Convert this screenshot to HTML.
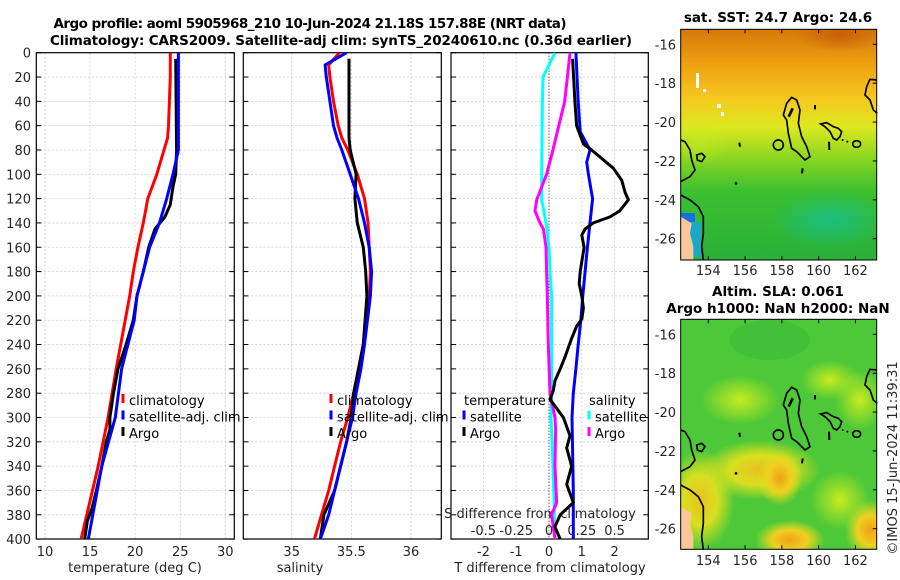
<!DOCTYPE html>
<html><head><meta charset="utf-8">
<style>
html,body{margin:0;padding:0;background:#fff;}
svg{display:block;font-family:"DejaVu Sans","Liberation Sans",sans-serif;}
.tk{font-size:13px;fill:#262626;}
.tt{font-size:13.5px;font-weight:bold;fill:#000;}
.lg{font-size:13px;fill:#000;}
</style></head><body>
<svg id="chart" width="900" height="580" viewBox="0 0 900 580" xmlns="http://www.w3.org/2000/svg">
<defs>
<clipPath id="c1"><rect x="36.3" y="52.7" width="198" height="486.3"/></clipPath>
<clipPath id="c2"><rect x="243.3" y="52.7" width="198" height="486.3"/></clipPath>
<clipPath id="c3"><rect x="451" y="52.7" width="197.3" height="486.3"/></clipPath>
<clipPath id="m1c"><rect x="680.7" y="29.3" width="196" height="230.7"/></clipPath>
<clipPath id="m2c"><rect x="680.7" y="319.3" width="196" height="230"/></clipPath>
<linearGradient id="sstg" x1="0" y1="0" x2="0" y2="1">
<stop offset="0" stop-color="#d4780a"/><stop offset="0.15" stop-color="#f0a010"/><stop offset="0.3" stop-color="#f5c820"/>
<stop offset="0.42" stop-color="#dfe820"/><stop offset="0.55" stop-color="#8ed820"/><stop offset="0.7" stop-color="#3cc030"/><stop offset="1" stop-color="#28b038"/>
</linearGradient>
<radialGradient id="teal" cx="0.5" cy="0.5" r="0.5"><stop offset="0" stop-color="#10c0a0"/><stop offset="1" stop-color="#10c0a0" stop-opacity="0"/></radialGradient>
<radialGradient id="brn" cx="0.5" cy="0.5" r="0.5"><stop offset="0" stop-color="#c86008"/><stop offset="1" stop-color="#c86008" stop-opacity="0"/></radialGradient>
<radialGradient id="yel" cx="0.5" cy="0.5" r="0.5"><stop offset="0" stop-color="#e8c020"/><stop offset="0.5" stop-color="#d8e020"/><stop offset="1" stop-color="#d8e020" stop-opacity="0"/></radialGradient>
<radialGradient id="org" cx="0.5" cy="0.5" r="0.5"><stop offset="0" stop-color="#f0a018"/><stop offset="0.5" stop-color="#f0d020"/><stop offset="1" stop-color="#e0e020" stop-opacity="0"/></radialGradient>
<radialGradient id="lyel" cx="0.5" cy="0.5" r="0.5"><stop offset="0" stop-color="#c8ec20"/><stop offset="1" stop-color="#c8ec20" stop-opacity="0"/></radialGradient>
</defs>

<text class="tt" x="310" y="28" text-anchor="middle" textLength="513">Argo profile: aoml 5905968_210 10-Jun-2024 21.18S 157.88E (NRT data)</text>
<text class="tt" x="341" y="45" text-anchor="middle" textLength="582">Climatology: CARS2009. Satellite-adj clim: synTS_20240610.nc (0.36d earlier)</text>

<g id="axes"></g>
<g id="series"></g>
<g id="maps">
  <text class="tt" x="778" y="22" text-anchor="middle">sat. SST: 24.7 Argo: 24.6</text>
  <g clip-path="url(#m1c)">
    <rect x="680.7" y="29.3" width="196" height="231" fill="url(#sstg)"/>
    <ellipse cx="840" cy="34" rx="45" ry="18" fill="url(#brn)"/>
    <ellipse cx="830" cy="220" rx="60" ry="30" fill="url(#teal)" opacity="0.7"/>
    <ellipse cx="700" cy="140" rx="30" ry="25" fill="url(#lyel)" opacity="0.6"/>
    <rect x="681" y="213" width="14" height="13" fill="#1870e8"/>
    <rect x="681" y="222" width="20" height="35" fill="#18a8c8"/>
    <rect x="696" y="73" width="3" height="15" fill="#fff"/>
    <rect x="703" y="89" width="3" height="3" fill="#fff"/>
    <rect x="717" y="104" width="4" height="4" fill="#fff"/>
    <rect x="721" y="112" width="3" height="4" fill="#fff"/>
  </g>
  <g transform="translate(660,0) scale(0.33333)" id="coast1"></g>
  <rect x="680.7" y="29.3" width="196" height="230.7" fill="none" stroke="#000" stroke-width="1"/>

  <text class="tt" x="778" y="296" text-anchor="middle">Altim. SLA: 0.061</text>
  <text class="tt" x="778" y="313" text-anchor="middle">Argo h1000: NaN h2000: NaN</text>
  <g clip-path="url(#m2c)">
    <rect x="680.7" y="319.3" width="196" height="230" fill="#4cc838"/>
    <ellipse cx="740" cy="400" rx="40" ry="25" fill="url(#lyel)"/>
    <ellipse cx="830" cy="380" rx="30" ry="20" fill="url(#lyel)"/>
    <ellipse cx="860" cy="400" rx="25" ry="30" fill="url(#lyel)"/>
    <ellipse cx="760" cy="470" rx="60" ry="30" fill="url(#yel)"/>
    <ellipse cx="700" cy="500" rx="35" ry="50" fill="url(#yel)"/>
    <ellipse cx="780" cy="478" rx="22" ry="28" fill="url(#org)"/>
    <ellipse cx="840" cy="500" rx="30" ry="30" fill="url(#lyel)"/>
    <ellipse cx="790" cy="540" rx="35" ry="20" fill="url(#org)"/>
    <ellipse cx="870" cy="530" rx="25" ry="30" fill="url(#org)"/>
    <ellipse cx="770" cy="340" rx="40" ry="20" fill="#3cb838" opacity="0.5"/>
  </g>
  <g transform="translate(660,290) scale(0.33333)" id="coast2"></g>
  <rect x="680.7" y="319.3" width="196" height="230" fill="none" stroke="#000" stroke-width="1"/>
  <text class="tk" transform="translate(897,458) rotate(-90)" text-anchor="middle">©IMOS 15-Jun-2024 11:39:31</text>
</g>
</svg>
<script>
// ---- data ----
const depthT = [0,20,40,60,70,80,100,120,140,160,180,200,220,260,300,340,400];
const climT  = [23.9,23.9,23.8,23.7,23.6,23.2,22.4,21.4,20.9,20.3,19.8,19.4,18.9,17.9,17.0,15.9,14.0];
const satT   = [24.8,24.8,24.8,24.8,24.8,24.8,24.2,23.5,22.7,21.6,20.9,20.2,19.9,18.5,17.8,16.3,14.8];
const argoDepth = [5,80,100,110,125,135,145,160,180,200,220,240,260,280,300,310,320,340,360,375,385,400];
const argoT  = [24.5,24.6,24.5,24.2,23.9,23.3,22.2,21.5,20.9,20.2,19.8,19.0,18.1,17.6,17.2,17.2,16.8,16.3,15.7,15.2,14.7,14.4];
const depthS = [0,10,20,40,60,70,80,100,120,140,160,180,200,240,260,280,300,320,340,360,380,400];
const climS  = [35.40,35.31,35.32,35.35,35.39,35.42,35.47,35.55,35.61,35.64,35.65,35.66,35.65,35.60,35.56,35.52,35.47,35.41,35.36,35.31,35.25,35.19];
const satS   = [35.46,35.28,35.29,35.32,35.35,35.38,35.42,35.49,35.56,35.61,35.65,35.67,35.66,35.61,35.58,35.54,35.51,35.46,35.41,35.36,35.31,35.24];
const argoDepthS = [5,20,40,60,70,80,100,120,140,160,180,200,240,260,280,300,320,340,360,380,400];
const argoS  = [35.48,35.48,35.48,35.48,35.48,35.49,35.54,35.53,35.55,35.60,35.62,35.63,35.60,35.56,35.52,35.50,35.46,35.41,35.36,35.27,35.24];
const depthDSat = [0,40,65,80,90,100,120,140,160,180,200,220,240,260,280,300,360,400];
const dTsat  = [0.82,0.89,0.95,1.25,1.15,1.20,1.33,1.25,1.17,1.10,1.03,0.97,0.89,0.82,0.74,0.70,0.74,0.74];
const depthDArgo = [5,40,60,75,80,95,105,115,121,130,135,140,145,150,160,180,190,200,210,219,225,235,250,260,270,278,285,300,315,325,340,355,370,380,390,400];
const dTargo = [0.72,0.79,0.84,1.05,1.30,1.96,2.22,2.32,2.42,2.16,1.86,1.35,1.10,1.00,1.07,0.95,0.92,1.00,1.05,1.00,0.84,0.69,0.49,0.34,0.18,0.13,0.03,0.44,0.64,0.54,0.69,0.54,0.74,0.34,0.18,0.34];
const depthDS = [0,20,40,80,100,121,130,140,145,160,180,200,240,280,300,310,340,370,380,400];
const dSsat  = [0.046,-0.046,-0.050,-0.054,-0.056,-0.056,-0.040,-0.023,-0.015,0.0,0.008,0.02,0.02,0.02,0.015,0.02,0.03,0.04,0.04,0.046];
const dSargo = [0.16,0.14,0.12,0.03,-0.018,-0.094,-0.107,-0.069,-0.043,-0.023,-0.018,-0.013,-0.005,0.008,0.046,0.05,0.046,0.058,0.02,0.046];
const depthTicks = [0,20,40,60,80,100,120,140,160,180,200,220,240,260,280,300,320,340,360,380,400];
const tTicks = [10,15,20,25,30];
const sTicks = [35,35.5,36];
const dTTicks = [-2,-1,0,1,2];
const dSTicks = [-0.5,-0.25,0,0.25,0.5];
const dSTickLabels = ['-0.5','-0.25','0','0.25','0.5'];

// ---- scales ----
const Y0=52.7, Y1=539;
const y = d => Y0 + d*1.216;
const xT = v => 45 + (v-10)*9.015;
const xS = v => 291.7 + (v-35)*119.3;
const xDT = v => 549 + v*32.8;
const xDS = v => 549 + v*131.2;
const panels = [[36.3,234.3],[243.3,441.3],[451,648.3]];
const NS='http://www.w3.org/2000/svg';
function mk(tag, attrs, parent){const e=document.createElementNS(NS,tag);for(const k in attrs)e.setAttribute(k,attrs[k]);parent.appendChild(e);return e;}
const axes=document.getElementById('axes'), series=document.getElementById('series');

const vgrid=[tTicks.map(xT), sTicks.map(xS), dTTicks.map(xDT)];
panels.forEach((p,i)=>{
  const g=mk('g',{},axes);
  
  
  depthTicks.forEach(d=>{
    const l=mk('line',{x1:p[0],x2:p[1],y1:y(d),y2:y(d),stroke:'#c8cce8','stroke-width':0.8,'stroke-dasharray':'2,2'},g);
    
    
    mk('line',{x1:p[0],x2:p[0]+5,y1:y(d),y2:y(d),stroke:'#000','stroke-width':1},g);
    mk('line',{x1:p[1]-5,x2:p[1],y1:y(d),y2:y(d),stroke:'#000','stroke-width':1},g);
  });
  vgrid[i].forEach(x=>{
    const l=mk('line',{x1:x,x2:x,y1:Y0,y2:Y1,stroke:'#c8cce8','stroke-width':0.8,'stroke-dasharray':'2,2'},g);
    
    
  });
  const f=mk('rect',{x:p[0],y:Y0,width:p[1]-p[0],height:Y1-Y0,fill:'none',stroke:'#000','stroke-width':1.2},g);
  
  
});
depthTicks.forEach(d=>{
  const t=mk('text',{x:31,y:y(d)+5,'text-anchor':'end',class:'tk'},axes);
  t.textContent=d;
  
  
});
tTicks.forEach(v=>{const t=mk('text',{x:xT(v),y:556,'text-anchor':'middle',class:'tk'},axes);t.textContent=v;
  
  });
sTicks.forEach(v=>{const t=mk('text',{x:xS(v),y:556,'text-anchor':'middle',class:'tk'},axes);t.textContent=v;
  
  });
dTTicks.forEach(v=>{const t=mk('text',{x:xDT(v),y:556,'text-anchor':'middle',class:'tk'},axes);t.textContent=v;
  
  });
dSTicks.forEach((v,i)=>{const t=mk('text',{x:xDS(v),y:535,'text-anchor':'middle',class:'tk'},axes);t.textContent=dSTickLabels[i];
  
  });
[[135,'temperature (deg C)','x-axis-title-temperature'],[300,'salinity','x-axis-title-salinity'],[550,'T difference from climatology','x-axis-title-t-diff']].forEach(a=>{
  const t=mk('text',{x:a[0],y:572,'text-anchor':'middle',class:'tk'},axes);t.textContent=a[1];
  
  });
{const t=mk('text',{x:540,y:518,'text-anchor':'middle',class:'tk'},axes);t.textContent='S difference from climatology';
  
  }
{const l=mk('line',{x1:549,x2:549,y1:Y0,y2:Y1,stroke:'#333','stroke-width':1,'stroke-dasharray':'1,2'},axes);
  
  }

function line(xs, ds, sx, color, clip, name){
  const pts=xs.map((v,i)=>sx(v).toFixed(1)+','+y(ds[i]).toFixed(1)).join(' ');
  const e=mk('polyline',{points:pts,fill:'none',stroke:color,'stroke-width':3,'stroke-linejoin':'round','clip-path':'url(#'+clip+')'},series);
  
  
}
line(climT, depthT, xT, '#ff0000','c1','temperature-climatology-line');
line(argoT, argoDepth, xT, '#000','c1','temperature-argo-line');
line(satT, depthT, xT, '#0000ff','c1','temperature-satellite-line');
line(climS, depthS, xS, '#ff0000','c2','salinity-climatology-line');
line(argoS, argoDepthS, xS, '#000','c2','salinity-argo-line');
line(satS, depthS, xS, '#0000ff','c2','salinity-satellite-line');
line(dSsat, depthDS, xDS, '#00ffff','c3','s-diff-satellite-line');
line(dSargo, depthDS, xDS, '#ff00ff','c3','s-diff-argo-line');
line(dTsat, depthDSat, xDT, '#0000ff','c3','t-diff-satellite-line');
line(dTargo, depthDArgo, xDT, '#000','c3','t-diff-argo-line');

function legend(x, yy, items, name){
  const g=mk('g',{},series);
  
  
  items.forEach((it,i)=>{
    if(it[1]) mk('line',{x1:x,x2:x,y1:yy+i*16.5-11,y2:yy+i*16.5-2,stroke:it[1],'stroke-width':3},g);
    const t=mk('text',{x:x+6+(it[2]||0),y:yy+i*16.5,class:'lg'},g);t.textContent=it[0];
  });
}
legend(123,405,[['climatology','#ff0000'],['satellite-adj. clim','#0000ff'],['Argo','#000']],'legend-temperature');
legend(331,405,[['climatology','#ff0000'],['satellite-adj. clim','#0000ff'],['Argo','#000']],'legend-salinity');
legend(464,405,[['temperature',null,-6],['satellite','#0000ff'],['Argo','#000']],'legend-t-diff');
legend(589,405,[['salinity',null,-6],['satellite','#00ffff'],['Argo','#ff00ff']],'legend-s-diff');

const lonTicks=[154,156,158,160,162];
const latTicks=[-16,-18,-20,-22,-24,-26];
const maps=document.getElementById('maps');
[[29.3,260,44.3,275],[319.3,549.3,334.3,565]].forEach((m,mi)=>{
  lonTicks.forEach(lo=>{
    const x=708.3+(lo-154)*18.39;
    mk('line',{x1:x,x2:x,y1:m[1]-4,y2:m[1],stroke:'#000'},maps);
    mk('line',{x1:x,x2:x,y1:m[0],y2:m[0]+4,stroke:'#000'},maps);
    const t=mk('text',{x:x,y:m[3],'text-anchor':'middle',class:'tk'},maps);t.textContent=lo;
    
    
  });
  latTicks.forEach(la=>{
    const yy=m[2]+(-16-la)*19.44;
    mk('line',{x1:872.7,x2:876.7,y1:yy,y2:yy,stroke:'#000'},maps);
    const t=mk('text',{x:676,y:yy+5,'text-anchor':'end',class:'tk'},maps);t.textContent=la;
    
    
  });
});
const coast = `
<path d="M62,650 L95,670 L90,700 L100,740 L100,780 L62,780 Z" fill="#f8c898" stroke="none"/>
<path d="M62,585 L90,600 L115,620 L130,650 L130,700 L125,740 L130,780" fill="none" stroke="#000" stroke-width="5"/>
<path d="M62,420 L75,425 L90,450 L95,480 L105,510 L90,530 L62,545" fill="none" stroke="#000" stroke-width="5"/>
<path d="M110,465 L125,460 L135,470 L125,485 L112,480 Z" fill="none" stroke="#000" stroke-width="5"/>
<path d="M395,292 L410,300 L420,330 L415,370 L425,410 L440,440 L450,470 L435,480 L410,455 L395,445 L385,400 L380,360 L370,345 L380,310 Z" fill="none" stroke="#000" stroke-width="5"/>
<path d="M398,325 L386,350" stroke="#000" stroke-width="8"/>
<circle cx="355" cy="435" r="15" fill="none" stroke="#000" stroke-width="5"/>
<path d="M482,372 L500,368 L520,380 L535,385 L545,395 L540,410 L530,420 L520,415 L510,395 L495,380 Z" fill="none" stroke="#000" stroke-width="5"/>
<ellipse cx="590" cy="432" rx="12" ry="10" fill="none" stroke="#000" stroke-width="5"/>
<circle cx="548" cy="420" r="3"/><circle cx="562" cy="425" r="3"/>
<path d="M507,425 L508,450" stroke="#000" stroke-width="6"/>
<path d="M465,315 L465,328" stroke="#000" stroke-width="6"/>
<path d="M428,505 L426,520" stroke="#000" stroke-width="6"/>
<circle cx="228" cy="550" r="4"/><path d="M238,428 L240,440" stroke="#000" stroke-width="6"/>
<path d="M650,240 L630,238 L620,260 L615,285 L630,300 L640,330 L652,340" fill="none" stroke="#000" stroke-width="5"/>`;
const c1=document.getElementById('coast1'); c1.innerHTML=coast;
const c2=document.getElementById('coast2'); c2.innerHTML=coast;




</script>
</body></html>
